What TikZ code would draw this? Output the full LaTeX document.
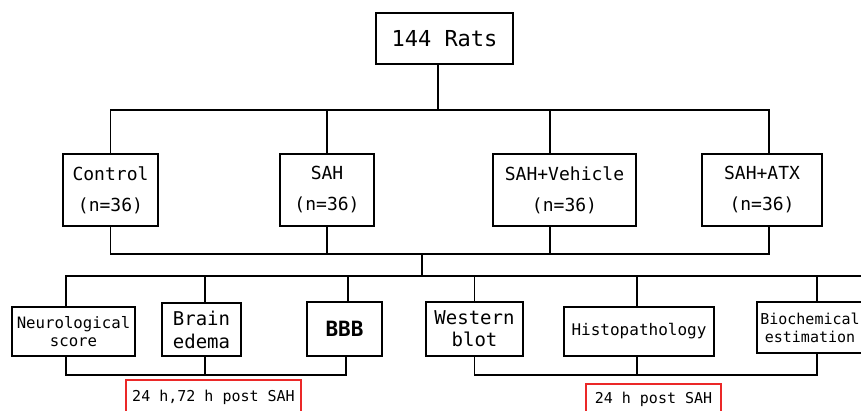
\documentclass[tikz,border=0pt]{standalone}
\usepackage{fontspec}
\setmonofont{DejaVu Sans Mono}
\definecolor{markred}{RGB}{235,40,40}
\tikzset{
  box/.style={draw=black,line width=1.2pt,inner sep=0pt,align=center,font=\ttfamily},
  redbox/.style={draw=markred,line width=1.2pt,inner sep=0pt,align=center,font=\ttfamily\fontsize{15}{18}\selectfont},
  link/.style={line width=1.2pt}
}
\begin{document}
\begin{tikzpicture}[x=1pt,y=-1pt]
  \useasboundingbox (0,0) rectangle (861,410);
  \clip (0,0) rectangle (861,410);
  % Tiere
  \node[box,minimum width=137,minimum height=51,font=\ttfamily\fontsize{22}{24}\selectfont] (rats) at (444.5,38.5) {144 Rats};
  % Gruppen
  \node[box,minimum width=95,minimum height=72,font=\ttfamily\fontsize{18}{31}\selectfont] (ctrl) at (110.5,190) {Control\\(n=36)};
  \node[box,minimum width=94,minimum height=72,font=\ttfamily\fontsize{18}{31}\selectfont] (sah) at (327,190) {SAH\\(n=36)};
  \node[box,minimum width=143,minimum height=72,font=\ttfamily\fontsize{18}{31}\selectfont] (veh) at (564.5,190) {SAH+Vehicle\\(n=36)};
  \node[box,minimum width=120,minimum height=72,font=\ttfamily\fontsize{18}{31}\selectfont] (atx) at (762,190) {SAH+ATX\\(n=36)};
  % Messungen
  \node[box,minimum width=123,minimum height=49,font=\ttfamily\fontsize{15.7}{18}\selectfont] (neuro) at (73.5,331.5) {Neurological\\score};
  \node[box,minimum width=79,minimum height=53,font=\ttfamily\fontsize{19}{23}\selectfont] (edema) at (201.5,329.5) {Brain\\edema};
  \node[box,minimum width=75,minimum height=54,font=\ttfamily\bfseries\fontsize{21}{24}\selectfont] (bbb) at (344.5,329) {BBB};
  \node[box,minimum width=97,minimum height=54,font=\ttfamily\fontsize{19}{22}\selectfont] (wb) at (474.5,329) {Western\\blot};
  \node[box,minimum width=150,minimum height=49,font=\ttfamily\fontsize{16}{18}\selectfont] (histo) at (639,331.5) {Histopathology};
  \node[box,minimum width=106,minimum height=51,font=\ttfamily\fontsize{15}{18}\selectfont] (bio) at (810,327.5) {Biochemical\\estimation};
  % Zeitpunkte
  \node[redbox,minimum width=175,minimum height=34] (early) at (213.5,397) {24 h,72 h post SAH};
  \node[redbox,minimum width=135,minimum height=30] (late) at (653.5,399) {24 h post SAH};
  % Verbindungen
  \coordinate (busA) at (0,110);
  \coordinate (busB) at (0,254);
  \coordinate (busC) at (0,276);
  \coordinate (busD) at (0,375);
  \coordinate (drop) at (422,254);
  \coordinate (edge) at (861,276);
  \draw[link] ([xshift=-6.5pt]rats.south) -- ([xshift=-6.5pt]rats.south |- busA);
  \draw[link] (ctrl.north) |- ([xshift=7pt]atx.north |- busA) -- ([xshift=7pt]atx.north);
  \draw[link] (sah.north) -- (sah.north |- busA);
  \draw[link] ([xshift=-14.5pt]veh.north) -- ([xshift=-14.5pt]veh.north |- busA);
  \draw[link] (ctrl.south) |- ([xshift=7pt]atx.south |- busB) -- ([xshift=7pt]atx.south);
  \draw[link] (sah.south) -- (sah.south |- busB);
  \draw[link] ([xshift=-14.5pt]veh.south) -- ([xshift=-14.5pt]veh.south |- busB);
  \draw[link] (drop) -- (drop |- busC);
  \draw[link] ([xshift=-7.5pt]neuro.north) |- (edge);
  \draw[link] ([xshift=3.5pt]edema.north) -- ([xshift=3.5pt]edema.north |- busC);
  \draw[link] ([xshift=3.5pt]bbb.north) -- ([xshift=3.5pt]bbb.north |- busC);
  \draw[link] (wb.north) -- (wb.north |- busC);
  \draw[link] ([xshift=-2pt]histo.north) -- ([xshift=-2pt]histo.north |- busC);
  \draw[link] ([xshift=7pt]bio.north) -- ([xshift=7pt]bio.north |- busC);
  \draw[link] ([xshift=-7.5pt]neuro.south) |- ([xshift=1.5pt]bbb.south |- busD) -- ([xshift=1.5pt]bbb.south);
  \draw[link] ([xshift=3.5pt]edema.south) -- ([xshift=3.5pt]edema.south |- busD);
  \draw[link] (wb.south) |- ([xshift=7pt]bio.south |- busD) -- ([xshift=7pt]bio.south);
  \draw[link] ([xshift=-2pt]histo.south) -- ([xshift=-2pt]histo.south |- busD);
\end{tikzpicture}
\end{document}
